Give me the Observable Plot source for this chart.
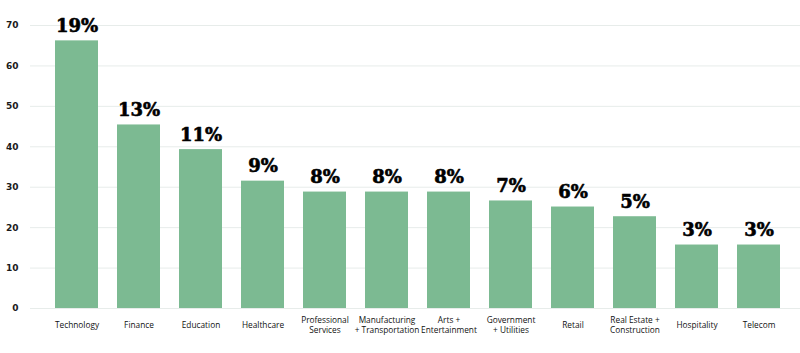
<!DOCTYPE html>
<html>
<head>
<meta charset="utf-8">
<script src="https://cdn.jsdelivr.net/npm/d3@7"></script>
<script src="https://cdn.jsdelivr.net/npm/@observablehq/plot@0.6"></script>
<style>
  html, body { margin: 0; padding: 0; background: #fff; }
  #chart svg { display: block; }
</style>
</head>
<body>
<div id="chart"></div>
<script>
const categories = ["Technology", "Finance", "Education", "Healthcare", "Professional\nServices", "Manufacturing\n+ Transportation", "Arts +\nEntertainment", "Government\n+ Utilities", "Retail", "Real Estate +\nConstruction", "Hospitality", "Telecom"];
const values = [66.2, 45.4, 39.3, 31.5, 28.8, 28.8, 28.8, 26.6, 25.1, 22.7, 15.7, 15.7];
const shareLabels = ["19%", "13%", "11%", "9%", "8%", "8%", "8%", "7%", "6%", "5%", "3%", "3%"];
const yTicks = [0, 10, 20, 30, 40, 50, 60, 70];

const data = categories.map((c, i) => ({category: c, value: values[i], label: shareLabels[i]}));

const chart = Plot.plot({
  width: 800,
  height: 353,
  marginLeft: 30,
  marginRight: 0,
  marginTop: 25,
  marginBottom: 45,
  style: {fontFamily: "'DejaVu Sans', sans-serif", background: "#fff"},
  x: {domain: categories, range: [51, 784], paddingInner: 0.314, paddingOuter: 0, axis: null},
  y: {domain: [0, 70], axis: null},
  marks: [
    Plot.gridY(yTicks, {stroke: "#e7ecea", strokeOpacity: 1, strokeWidth: 1}),
    Plot.text(yTicks, {y: d => d, text: d => String(d), frameAnchor: "left", dx: -12, textAnchor: "end",
      fontSize: 9, fontWeight: "bold", fill: "#1a1a1a", fontFamily: "'DejaVu Sans', sans-serif"}),
    Plot.barY(data, {x: "category", y: "value", fill: "#7cba92"}),
    Plot.text(data, {x: "category", y: "value", text: "label", dy: -9, lineAnchor: "bottom",
      fontSize: 18, fontWeight: "bold", fill: "#000", fontFamily: "'DejaVu Serif', serif", letterSpacing: "-0.8px",
      stroke: "#000", strokeWidth: 0.6}),
    Plot.text(data, {x: "category", text: "category", frameAnchor: "bottom", dy: 16, lineAnchor: "middle",
      fontSize: 8.3, fill: "#111", fontFamily: "'Open Sans', sans-serif", lineHeight: 1.2, letterSpacing: "-0.1px"})
  ]
});
document.getElementById("chart").appendChild(chart);
</script>
</body>
</html>
